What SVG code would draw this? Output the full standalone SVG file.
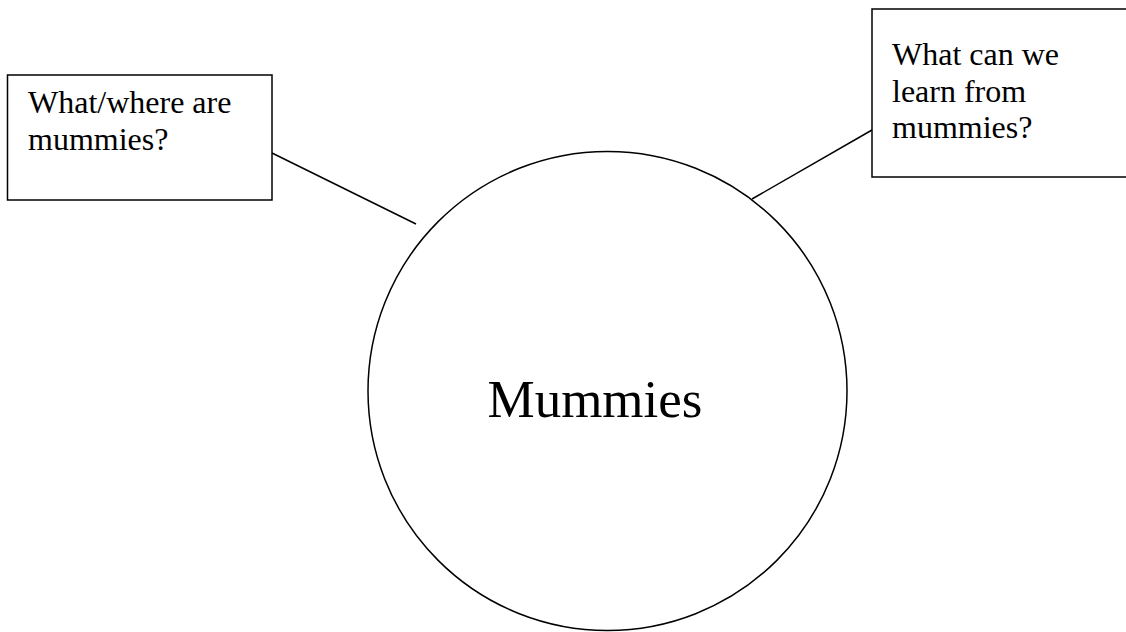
<svg xmlns="http://www.w3.org/2000/svg" width="1126" height="632" viewBox="0 0 1126 632">
<style>
.box{fill:#fff;stroke:#000;stroke-width:1.5}
.conn{stroke:#000;stroke-width:1.5;fill:none}
.t{font-family:"Liberation Serif","Times New Roman",serif;fill:#000}
.s{font-size:32px}
.big{font-size:53px}
</style>
<rect width="1126" height="632" fill="#fff"/>
<g id="connectors">
<line class="conn" x1="272" y1="153" x2="416" y2="224"/>
<line class="conn" x1="872" y1="130" x2="752" y2="199"/>
</g>
<g id="node-left">
<rect class="box" x="7.5" y="75" width="264.5" height="125"/>
<text class="t s" x="28" y="113">What/where are</text>
<text class="t s" x="28" y="150">mummies?</text>
</g>
<g id="node-right">
<rect class="box" x="872" y="9" width="260" height="168"/>
<text class="t s" x="892" y="65">What can we</text>
<text class="t s" x="892" y="102">learn from</text>
<text class="t s" x="892" y="138">mummies?</text>
</g>
<g id="node-center">
<circle class="box" cx="607.5" cy="391" r="239.5"/>
<text class="t big" x="595" y="417" text-anchor="middle">Mummies</text>
</g>
</svg>
